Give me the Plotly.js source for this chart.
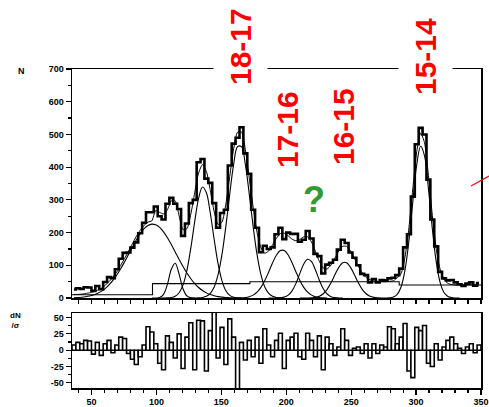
<!DOCTYPE html>
<html>
<head>
<meta charset="utf-8">
<script src="https://cdn.plot.ly/plotly-3.0.1.min.js"></script>
<style>html,body{margin:0;padding:0;background:#fff;}#chart{width:489px;height:407px;}</style>
</head>
<body>
<div id="chart"></div>
<script>
// ---- data ----
const binStart = 36.5;   // first bin centre
const binStep = 3;       // bin width
const counts = [
  26,30,28,33,32,22,37,27,49,64,61,88,120,138,139,154,170,198,230,262,262,
  280,250,240,288,306,288,272,190,228,290,300,415,425,365,352,290,215,260,270,405,472,
  490,522,442,380,270,215,140,160,150,155,195,215,180,200,196,196,172,178,205,182,135,
  128,75,102,108,117,148,178,168,139,123,100,74,70,48,58,48,55,54,60,62,70,
  90,155,195,310,470,520,500,362,240,158,80,60,54,55,48,42,37,44,48,38,46
];
const fitTotal = [
  11,11,12,14,16,19,24,30,39,50,64,80,100,121,143,166,188,207,222,232,236,
  268,262,257,270,297,297,251,209,212,256,322,382,408,387,329,264,225,232,287,372,456,
  507,508,454,367,278,201,154,137,144,163,183,197,198,190,180,175,179,187,187,171,142,
  112,92,89,101,122,144,158,158,144,121,97,77,63,56,52,51,50,50,51,53,62,
  75,126,215,334,447,504,475,375,253,151,88,57,45,41,40,40,40,40,40,40,40
];
const residuals = [
  8,12,10,15,14,-6,12,-8,10,15,-4,8,20,18,-5,-14,-22,-10,8,36,28,
  10,-20,-30,22,12,-12,25,-28,20,42,-30,46,45,-32,30,60,-12,35,-22,48,20,
  -62,12,-15,15,-10,20,-20,33,8,-10,15,26,-28,15,20,26,-10,-14,26,15,-10,
  22,-30,20,10,-8,5,33,15,-8,3,5,-5,10,-12,10,-5,8,5,36,33,10,
  20,41,-32,-42,35,30,38,-20,-25,10,-15,5,15,20,10,3,-5,5,10,-4,8
];
// fitted peak components (start bin index, values per bin)
const g1Start = 0;
const g1 = [0.8,1.4,2.3,3.8,6.0,9.3,13.9,20.3,28.9,40.0,53.8,70.4,89.5,110.8,133.3,156,177.6,196.7,211.8,221.8,225.9,223.8,215.8,202.2,184.3,163.4,140.8,118.1,96.4,76.4,59,44.3,32.3,23,15.8,10.6,7,4.4,2.7,1.6,1,0.5,0.2];
const g2Start = 20;
const g2 = [0,0.15,1.7,11.2,41.6,88,106.2,73,28.6,6.4,0.8,0];
const g3Start = 22;
const g3 = [0,0.1,0.4,1.6,5.6,16.3,40.2,84.8,152.4,233.5,304.9,339.2,321.6,259.8,178.9,104.9,52.5,22.4,8.1,2.5,0.7,0.2];
const g4Start = 30;
const g4 = [0,0.1,0.5,1.7,5.2,14.2,33.8,71.4,133.2,219.1,318.5,408.5,462.7,462.7,408.5,318.5,219.1,133.2,71.4,33.8,14.2,5.2,1.7,0.5,0.1];
const g5Start = 42;
const g5 = [0.2,0.6,1.6,4,8.9,17.9,32.5,53.5,79.8,107.6,131.4,145.2,145.2,131.4,107.6,79.8,53.5,32.5,17.9,8.9,4,1.6,0.6,0.2];
const g6Start = 50;
const g6 = [0,0,0.2,0.8,2.9,8.9,22,44.8,75.4,104.3,118.7,111.3,85.8,54.5,28.5,12.3,4.3,1.3,0.3,0];
const g7Start = 58;
const g7 = [0,0.05,0.2,0.7,2.1,5.6,13.1,26.5,46.5,70.9,93.9,108.1,108.1,93.9,70.9,46.5,26.5,13.1,5.6,2.1,0.7,0.2];
const g8Start = 79;
const g8 = [0,0.1,0.7,3.1,11.5,34.6,86,175.2,294.4,407.4,463.7,434.7,335.3,213,111.2,47.9,17,5,1.2,0.2,0];
// background level steps
const bgX = [35, 97, 172, 287, 350];
const bgY = [10, 44, 50, 40, 40];
// tick labels
const mainYTicks = [0,100,200,300,400,500,600,700];
const resYTicks = [-50,-25,0,25,50];
const resXTicks = [50,100,150,200,250,300,350];
const peakLabels = ["18-17","17-16","16-15","15-14"];
const unknownLabel = "?";

// ---- build traces ----
const binCenters = counts.map((_, i) => binStart + i * binStep);
const comp = (start, vals) => ({
  type: 'scatter', mode: 'lines',
  x: binCenters.slice(start, start + vals.length), y: vals,
  line: {color: '#000', width: 1.1, shape: 'spline', smoothing: 1},
  xaxis: 'x', yaxis: 'y', hoverinfo: 'skip'
});
const traces = [
  comp(g1Start, g1), comp(g2Start, g2), comp(g3Start, g3), comp(g4Start, g4),
  comp(g5Start, g5), comp(g6Start, g6), comp(g7Start, g7), comp(g8Start, g8),
  {type: 'scatter', mode: 'lines', x: bgX, y: bgY, line: {color: '#000', width: 1.1, shape: 'hv'}, xaxis: 'x', yaxis: 'y'},
  {type: 'scatter', mode: 'lines', x: binCenters, y: counts, line: {color: '#000', width: 2.6, shape: 'hvh'}, xaxis: 'x', yaxis: 'y'},
  {type: 'scatter', mode: 'lines', x: binCenters, y: fitTotal, line: {color: '#000', width: 1, shape: 'spline', smoothing: 0.6}, xaxis: 'x', yaxis: 'y'},
  {type: 'bar', x: binCenters, y: residuals, width: binStep,
   marker: {color: '#fff', line: {color: '#000', width: 1.6}}, xaxis: 'x2', yaxis: 'y2'}
];

const tf = {family: 'Liberation Sans, Arial, sans-serif', size: 9, color: '#000', weight: 'bold'};
const px = (p) => (p - 72) / 409;
const py = (p) => (388 - p) / 319;
const redFont = {family: 'Liberation Sans, Arial, sans-serif', size: 30, color: '#ff0000', weight: 'bold'};

const layout = {
  width: 489, height: 407,
  margin: {l: 72, r: 8, t: 69, b: 19},
  paper_bgcolor: '#fff', plot_bgcolor: '#fff',
  showlegend: false, bargap: 0,
  xaxis: {domain: [0, 1], anchor: 'y', range: [35, 350], showgrid: false, zeroline: false,
    showline: true, linecolor: '#000', linewidth: 1.5, mirror: true,
    ticks: 'outside', tick0: 50, dtick: 10, ticklen: 4, tickwidth: 1.2, tickcolor: '#000',
    showticklabels: false},
  yaxis: {domain: [0.282, 1], anchor: 'x', range: [0, 700], showgrid: false, zeroline: false,
    showline: true, linecolor: '#000', linewidth: 1.5, mirror: true,
    ticks: 'outside', tickvals: mainYTicks, ticktext: mainYTicks.map(String),
    ticklen: 5, tickwidth: 1.2, tickcolor: '#000', tickfont: tf,
    minor: {ticks: 'outside', dtick: 50, tick0: 0, ticklen: 3, tickwidth: 1.2, tickcolor: '#000'}},
  xaxis2: {domain: [0, 1], anchor: 'y2', range: [35, 350], showgrid: false, zeroline: false,
    showline: true, linecolor: '#000', linewidth: 1.5, mirror: true,
    ticks: 'outside', tickvals: resXTicks, ticktext: resXTicks.map(String),
    ticklen: 5, tickwidth: 1.2, tickcolor: '#000', tickfont: tf,
    minor: {ticks: 'outside', dtick: 10, tick0: 0, ticklen: 3, tickwidth: 1.2, tickcolor: '#000'}},
  yaxis2: {domain: [0, 0.235], anchor: 'x2', range: [-58, 57], showgrid: false,
    zeroline: true, zerolinecolor: '#000', zerolinewidth: 1.2,
    showline: true, linecolor: '#000', linewidth: 1.5, mirror: true,
    ticks: 'outside', tickvals: resYTicks, ticktext: resYTicks.map(String),
    ticklen: 5, tickwidth: 1.2, tickcolor: '#000', tickfont: tf,
    minor: {ticks: 'outside', dtick: 12.5, tick0: 0, ticklen: 3, tickwidth: 1.2, tickcolor: '#000'}},
  annotations: [
    {text: peakLabels[0], xref: 'paper', yref: 'paper', x: px(240), y: py(47), textangle: -90,
     showarrow: false, font: redFont, bgcolor: '#fff', borderpad: 10, xanchor: 'center', yanchor: 'middle'},
    {text: peakLabels[1], xref: 'paper', yref: 'paper', x: px(287), y: py(130), textangle: -90,
     showarrow: false, font: redFont, bgcolor: '#fff', borderpad: 2, xanchor: 'center', yanchor: 'middle'},
    {text: peakLabels[2], xref: 'paper', yref: 'paper', x: px(344), y: py(127), textangle: -90,
     showarrow: false, font: redFont, bgcolor: '#fff', borderpad: 2, xanchor: 'center', yanchor: 'middle'},
    {text: peakLabels[3], xref: 'paper', yref: 'paper', x: px(425), y: py(57), textangle: -90,
     showarrow: false, font: redFont, bgcolor: '#fff', borderpad: 10, xanchor: 'center', yanchor: 'middle'},
    {text: unknownLabel, xref: 'paper', yref: 'paper', x: px(314), y: py(199),
     showarrow: false, font: {family: 'Liberation Sans, Arial, sans-serif', size: 36, color: '#339933', weight: 'bold'},
     xanchor: 'center', yanchor: 'middle'},
    {text: 'N', xref: 'paper', yref: 'paper', x: px(21), y: py(71), showarrow: false, font: tf,
     xanchor: 'center', yanchor: 'middle'},
    {text: 'dN<br>/σ', xref: 'paper', yref: 'paper', x: px(15), y: py(320), showarrow: false,
     font: {family: 'Liberation Sans, Arial, sans-serif', size: 8, color: '#000', weight: 'bold'},
     xanchor: 'center', yanchor: 'middle'}
  ],
  shapes: [
    {type: 'line', xref: 'paper', yref: 'paper', x0: px(471), y0: py(186), x1: px(489), y1: py(176),
     line: {color: '#ff0000', width: 1.2}}
  ]
};

Plotly.newPlot('chart', traces, layout, {staticPlot: true, displayModeBar: false});
</script>
</body>
</html>
